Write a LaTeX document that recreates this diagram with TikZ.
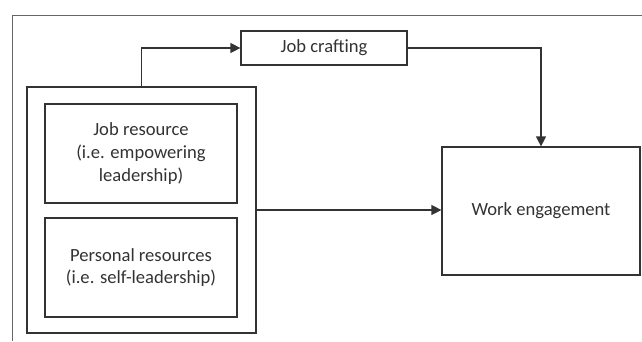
\documentclass[tikz,border=0pt]{standalone}
\usepackage{fontspec}
\setmainfont{Carlito}
\usetikzlibrary{arrows.meta}
\definecolor{ln}{HTML}{333333}
\definecolor{fr}{HTML}{666666}
\begin{document}
\begin{tikzpicture}[x=1pt,y=-1pt,
  box/.style={draw=ln,line width=1.2pt,inner sep=0pt,align=center,text=ln,
    font=\fontsize{18.6}{22.7}\selectfont},
  conn/.style={draw=ln,line width=1.2pt,-{Triangle[length=10pt,width=10pt]}}]
\useasboundingbox (0,0) rectangle (642,341);
\draw[fr,line width=1pt] (12,341) -- (12,15) -- (642,15);
\node[box,minimum width=229pt,minimum height=246pt] (grp) at (141.5,210) {};
\node[box,minimum width=192pt,minimum height=99pt] (jr) at (141,153.5) {Job resource\\(i.e. empowering\\leadership)};
\node[box,minimum width=192pt,minimum height=99pt] (pr) at (141,267.5) {Personal resources\\(i.e. self-leadership)};
\node[box,minimum width=166pt,minimum height=34pt] (jc) at (324,48) {Job crafting};
\node[box,minimum width=198pt,minimum height=128pt] (we) at (541,211) {Work engagement};
\draw[conn] (grp.north) |- (jc.west);
\draw[conn] (jc.east) -| (we.north);
\draw[conn] (grp.east) -- (grp.east -| we.west);
\end{tikzpicture}
\end{document}
